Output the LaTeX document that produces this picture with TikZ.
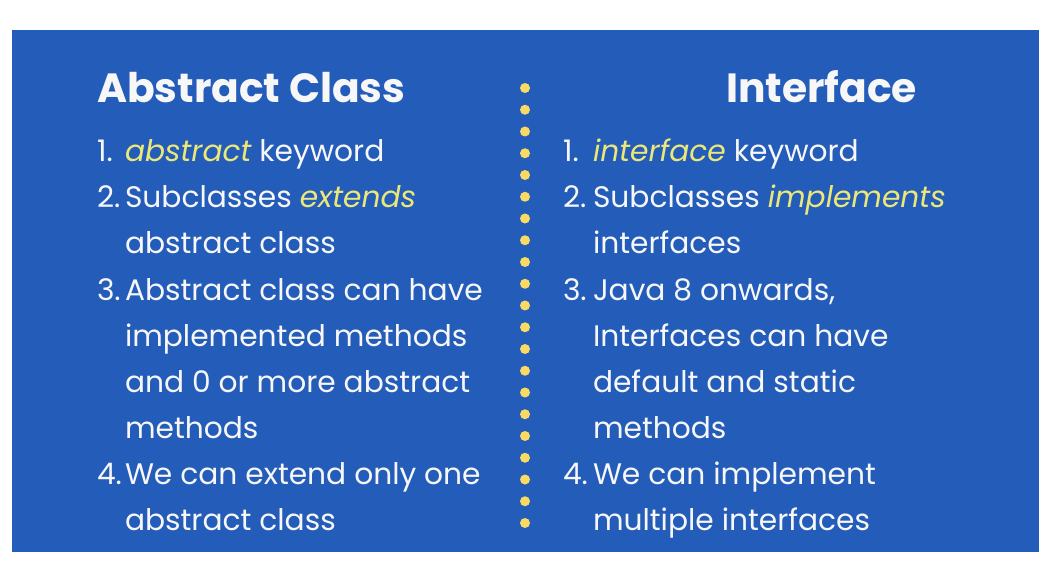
\documentclass[tikz,border=0pt]{standalone}
\usepackage{fontspec}
\setmainfont{Poppins}
\definecolor{panelblue}{RGB}{36,92,186}
\definecolor{kwyellow}{RGB}{236,232,120}
\definecolor{dotyellow}{RGB}{250,218,100}
\definecolor{txtwhite}{RGB}{247,247,247}
\newcommand{\kw}[1]{\textcolor{kwyellow}{\itshape #1}}

\begin{document}
\begin{tikzpicture}[x=1pt,y=-1pt]
\tikzstyle{every node}=[inner sep=0pt, outer sep=0pt, text=txtwhite]
\tikzstyle{heading}=[anchor=base west, font=\fontsize{40.8}{46}\selectfont\bfseries]
\tikzstyle{num}=[anchor=base west, font=\fontsize{29.7}{46}\selectfont]
% multi-line items sit on the baseline of their last line
\tikzstyle{item}=[anchor=base west, align=left, font=\fontsize{29.7}{46}\selectfont]

\useasboundingbox (0,0) rectangle (1047,564);
\fill[panelblue] (12,30) rectangle (1039,552);

% dotted divider
\foreach \i in {0,...,20}
	\fill[dotyellow] (525,88+21.75*\i) circle (5pt);

% abstract class column
\node[heading] (abstract) at (97,103) {Abstract Class};
\node[num] (a1) at (97,162) {1.};
\node[item] (a1t) at (125,162) {\kw{abstract} keyword};
\node[num] (a2) at (97,208) {2.};
\node[item] (a2t) at (125,254) {Subclasses \kw{extends}\\abstract class};
\node[num] (a3) at (97,300) {3.};
\node[item] (a3t) at (125,438) {Abstract class can have\\implemented methods\\and 0 or more abstract\\methods};
\node[num] (a4) at (97,484) {4.};
\node[item] (a4t) at (125,530) {We can extend only one\\abstract class};

% interface column
\node[heading] (interface) at (726,103) {Interface};
\node[num] (i1) at (563,162) {1.};
\node[item] (i1t) at (593,162) {\kw{interface} keyword};
\node[num] (i2) at (563,208) {2.};
\node[item] (i2t) at (593,254) {Subclasses \kw{implements}\\interfaces};
\node[num] (i3) at (563,300) {3.};
\node[item] (i3t) at (593,438) {Java 8 onwards,\\Interfaces can have\\default and static\\methods};
\node[num] (i4) at (563,484) {4.};
\node[item] (i4t) at (593,530) {We can implement\\multiple interfaces};

\end{tikzpicture}
\end{document}
